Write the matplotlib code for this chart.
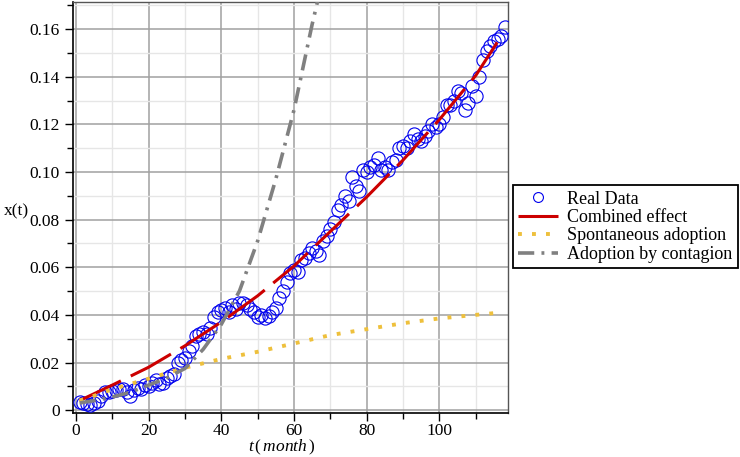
import matplotlib
matplotlib.use("Agg")
import matplotlib.pyplot as plt
from matplotlib.ticker import MultipleLocator, FuncFormatter

plt.rcParams['font.family'] = ['Liberation Serif', 'DejaVu Serif']
plt.rcParams['mathtext.fontset'] = 'custom'
plt.rcParams['mathtext.rm'] = 'Liberation Serif'
plt.rcParams['mathtext.it'] = 'Liberation Serif:italic'

# observed data, one value per month
months = list(range(1, 119))
real_data = [
    0.0035, 0.003, 0.0025, 0.002, 0.003, 0.004, 0.006, 0.0075, 0.0078, 0.008,
    0.0085, 0.009, 0.0088, 0.0075, 0.006, 0.0085, 0.0095, 0.009, 0.0105, 0.010,
    0.0115, 0.0125, 0.011, 0.0115, 0.0135, 0.0145, 0.015, 0.020, 0.021, 0.022,
    0.025, 0.027, 0.031, 0.032, 0.033, 0.032, 0.0345, 0.039, 0.041, 0.042,
    0.043, 0.041, 0.044, 0.0425, 0.045, 0.045, 0.044, 0.0425, 0.041, 0.039,
    0.040, 0.0385, 0.0395, 0.041, 0.043, 0.047, 0.050, 0.054, 0.0575, 0.059,
    0.058, 0.063, 0.064, 0.066, 0.068, 0.067, 0.065, 0.071, 0.073, 0.076,
    0.079, 0.084, 0.086, 0.090, 0.088, 0.098, 0.094, 0.092, 0.101, 0.100,
    0.102, 0.103, 0.106, 0.101, 0.102, 0.101, 0.104, 0.105, 0.110, 0.111,
    0.110, 0.113, 0.116, 0.114, 0.113, 0.115, 0.117, 0.120, 0.119, 0.120,
    0.123, 0.128, 0.128, 0.130, 0.134, 0.133, 0.126, 0.129, 0.136, 0.132,
    0.140, 0.147, 0.151, 0.153, 0.155, 0.156, 0.157, 0.161,
]

# fitted curves
fit_t = [1, 10, 20, 30, 40, 50, 60, 70, 80, 90, 100, 110, 117]
combined = [0.004, 0.0105, 0.018, 0.027, 0.037, 0.048, 0.0605, 0.075,
            0.0895, 0.105, 0.122, 0.1405, 0.157]

spont_t = [1, 5, 10, 15, 20, 25, 30, 40, 50, 60, 70, 80, 90, 100, 110, 117]
spontaneous = [0.004, 0.006, 0.0088, 0.011, 0.0132, 0.0155, 0.0178, 0.0215,
               0.0245, 0.028, 0.0315, 0.034, 0.0365, 0.0385, 0.040, 0.041]

cont_t = [1, 5, 10, 15, 20, 25, 30, 35, 40, 45, 50, 55, 60, 65, 67]
contagion = [0.003, 0.004, 0.0055, 0.0075, 0.0105, 0.0135, 0.0175, 0.0255,
             0.036, 0.050, 0.071, 0.097, 0.126, 0.162, 0.175]

fig = plt.figure(figsize=(7.4, 4.57), dpi=100)
ax = fig.add_axes([0.0986, 0.0963, 0.588, 0.9])

ax.plot(months, real_data, "o", color="#0000ee", mfc="none", ms=9.5, mew=0.8,
        label="Real Data", zorder=3)
ax.plot(fit_t, combined, "-", color="#cc0000", lw=2.2, dashes=(15, 3.6),
        label="Combined effect", zorder=4)
ax.plot(spont_t, spontaneous, "-", color="#eec03c", lw=2.8, dashes=(1, 2.6),
        label="Spontaneous adoption", zorder=4)
ax.plot(cont_t, contagion, "-", color="#808080", lw=2.6, dashes=(4.5, 2, 0.8, 2),
        label="Adoption by contagion", zorder=4)

ax.set_xlim(-0.8, 118.9)
ax.set_ylim(-0.0012, 0.1715)

ax.xaxis.set_major_locator(MultipleLocator(20))
ax.xaxis.set_minor_locator(MultipleLocator(10))
ax.yaxis.set_major_locator(MultipleLocator(0.02))
ax.yaxis.set_minor_locator(MultipleLocator(0.01))
ax.yaxis.set_major_formatter(FuncFormatter(lambda v, p: "0" if abs(v) < 1e-9 else "%.2f" % v))

ax.grid(which="major", color="#a0a0a0", lw=1.1)
ax.grid(which="minor", color="#e6e6e6", lw=1.0)
ax.set_axisbelow(True)

ax.tick_params(which="major", direction="out", length=6, width=1, labelsize=12.5, colors="black")
ax.tick_params(which="minor", direction="out", length=4, width=1)
ax.tick_params(axis="x", which="major", pad=1)

for s in ["left", "bottom"]:
    ax.spines[s].set_color("black")
    ax.spines[s].set_linewidth(1.2)
for s in ["top", "right"]:
    ax.spines[s].set_color("#555555")
    ax.spines[s].set_linewidth(1.0)

ax.set_xlabel(r"$t\,(\,month\,)$", fontsize=12.5)
ax.xaxis.set_label_coords(0.48, -0.06)
ax.set_ylabel("x(t)", fontsize=12.5, rotation=0)
ax.yaxis.set_label_coords(-0.13, 0.47)

leg = ax.legend(loc="center left", bbox_to_anchor=(0.693, 0.504),
                bbox_transform=fig.transFigure, fontsize=13, frameon=True,
                fancybox=False, edgecolor="black", framealpha=1,
                handlelength=2.2, handletextpad=0.5, labelspacing=0.08,
                borderpad=0.3, borderaxespad=0, markerscale=0.75)
leg.get_frame().set_linewidth(1.3)

fig.savefig("out.png", dpi=100)
